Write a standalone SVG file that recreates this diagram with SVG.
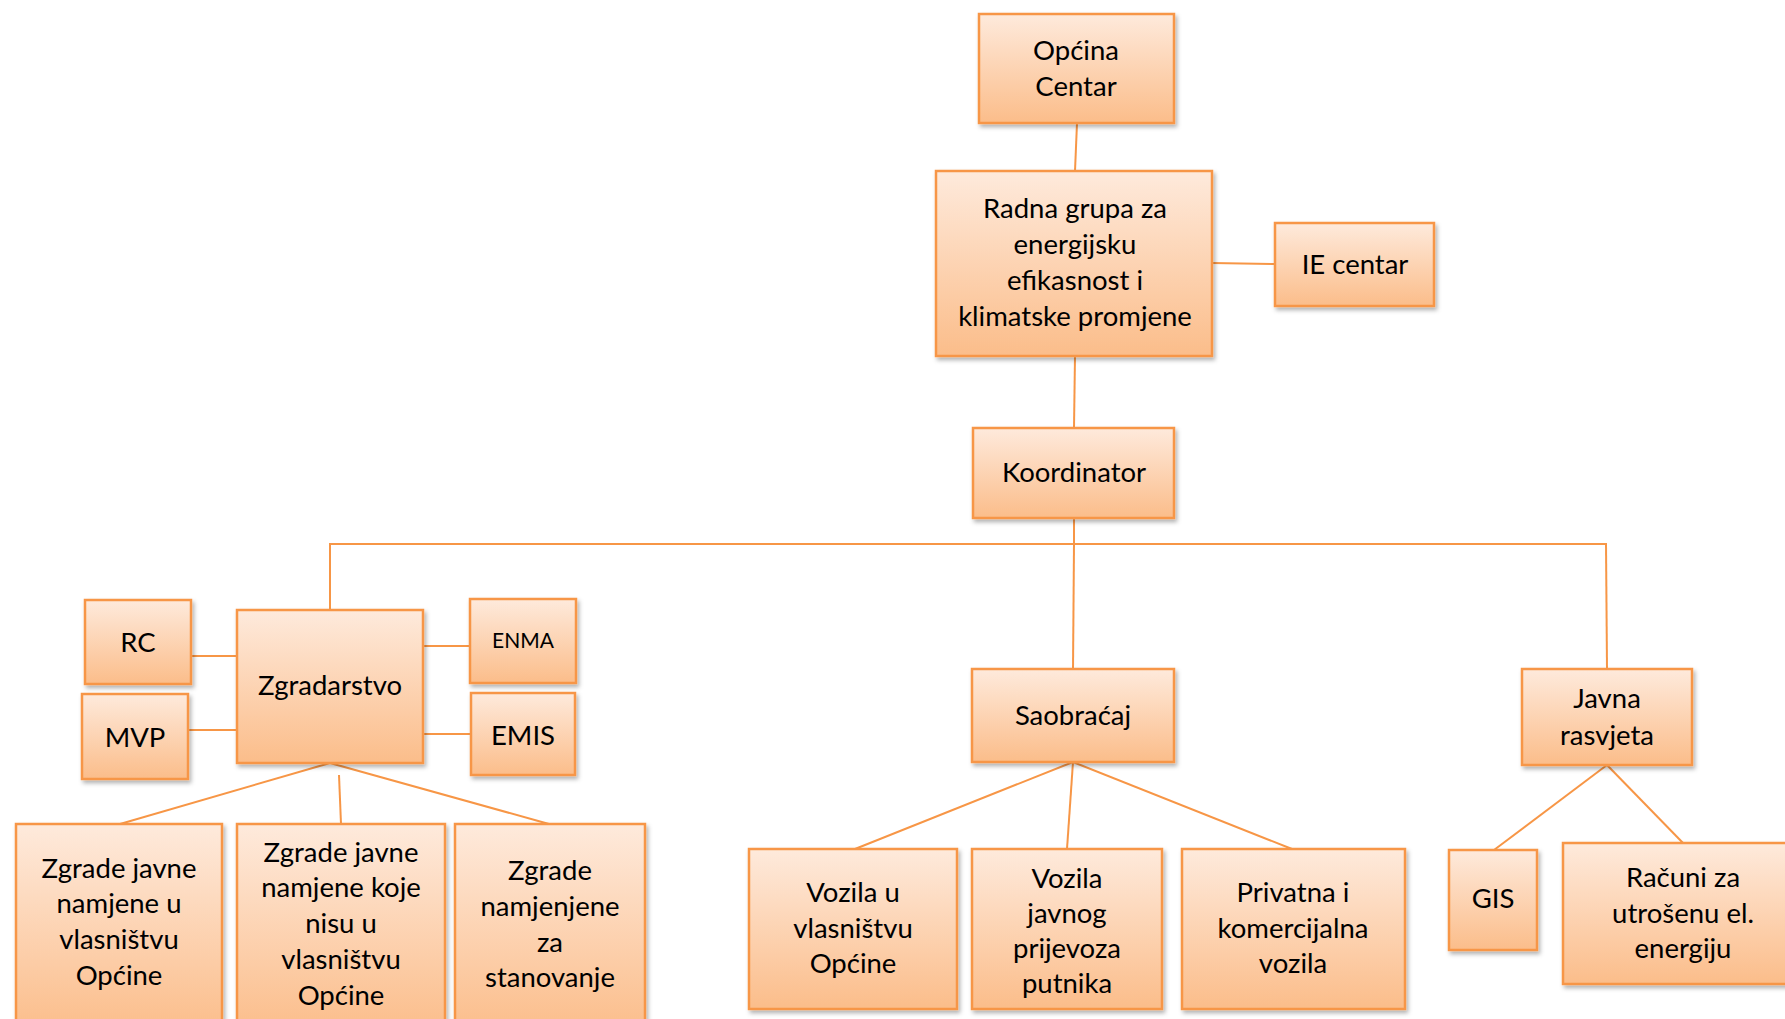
<svg xmlns="http://www.w3.org/2000/svg" width="1785" height="1019" viewBox="0 0 1785 1019">
<defs>
<linearGradient id="g" x1="0" y1="0" x2="0" y2="1">
<stop offset="0" stop-color="#FEEADC"/>
<stop offset="1" stop-color="#FBBD8A"/>
</linearGradient>
<filter id="sh" x="-10%" y="-10%" width="130%" height="130%">
<feDropShadow dx="2" dy="3" stdDeviation="2" flood-color="#000" flood-opacity="0.3"/>
</filter>
</defs>
<style>
.b{fill:url(#g);stroke:#F79646;stroke-width:2.5;filter:url(#sh)}
.c line{stroke:#F79646;stroke-width:2}
text{font-family:Lato,"Liberation Sans",sans-serif;font-size:27.5px;fill:#000;text-anchor:middle}
.s{font-size:21px}
</style>
<rect width="1785" height="1019" fill="#fff"/>
<g class="c" id="connectors">
<line x1="1077" y1="123" x2="1075" y2="171"/>
<line x1="1212" y1="263" x2="1275" y2="264"/>
<line x1="1075" y1="356" x2="1074" y2="428"/>
<line x1="1074" y1="518" x2="1074" y2="544"/>
<line x1="329" y1="544" x2="1607" y2="544"/>
<line x1="330" y1="544" x2="330" y2="610"/>
<line x1="1074" y1="544" x2="1073" y2="669"/>
<line x1="1606" y1="544" x2="1607" y2="669"/>
<line x1="191" y1="656" x2="237" y2="656"/>
<line x1="188" y1="730" x2="237" y2="730"/>
<line x1="423" y1="646" x2="470" y2="646"/>
<line x1="423" y1="734" x2="471" y2="734"/>
<line x1="330" y1="763" x2="120" y2="824"/>
<line x1="339" y1="775" x2="341" y2="824"/>
<line x1="330" y1="763" x2="549" y2="824"/>
<line x1="1073" y1="762" x2="855" y2="849"/>
<line x1="1073" y1="762" x2="1067" y2="849"/>
<line x1="1073" y1="762" x2="1292" y2="849"/>
<line x1="1607" y1="765" x2="1494" y2="850"/>
<line x1="1607" y1="765" x2="1683" y2="843"/>
</g>
<g id="opcina"><rect class="b" x="979" y="14" width="195" height="109"/><text x="1076" y="60">Općina</text><text x="1076" y="96">Centar</text></g>
<g id="radna"><rect class="b" x="936" y="171" width="276" height="185"/><text x="1075" y="218">Radna grupa za</text><text x="1075" y="254">energijsku</text><text x="1075" y="290">efikasnost i</text><text x="1075" y="326">klimatske promjene</text></g>
<g id="ie"><rect class="b" x="1275" y="223" width="159" height="83"/><text x="1355" y="274">IE centar</text></g>
<g id="koordinator"><rect class="b" x="973" y="428" width="201" height="90"/><text x="1074" y="482">Koordinator</text></g>
<g id="zgradarstvo"><rect class="b" x="237" y="610" width="186" height="153"/><text x="330" y="695">Zgradarstvo</text></g>
<g id="rc"><rect class="b" x="85" y="600" width="106" height="84"/><text x="138" y="652">RC</text></g>
<g id="mvp"><rect class="b" x="82" y="694" width="106" height="85"/><text x="135" y="747">MVP</text></g>
<g id="enma"><rect class="b" x="470" y="599" width="106" height="84"/><text class="s" x="523" y="648">ENMA</text></g>
<g id="emis"><rect class="b" x="471" y="693" width="104" height="82"/><text x="523" y="745">EMIS</text></g>
<g id="zjv"><rect class="b" x="16" y="824" width="206" height="210"/><text x="119" y="878">Zgrade javne</text><text x="119" y="913">namjene u</text><text x="119" y="949">vlasništvu</text><text x="119" y="985">Općine</text></g>
<g id="zjn"><rect class="b" x="237" y="824" width="208" height="210"/><text x="341" y="862">Zgrade javne</text><text x="341" y="897">namjene koje</text><text x="341" y="933">nisu u</text><text x="341" y="969">vlasništvu</text><text x="341" y="1005">Općine</text></g>
<g id="zst"><rect class="b" x="455" y="824" width="190" height="210"/><text x="550" y="880">Zgrade</text><text x="550" y="916">namjenjene</text><text x="550" y="952">za</text><text x="550" y="987">stanovanje</text></g>
<g id="saobracaj"><rect class="b" x="972" y="669" width="202" height="93"/><text x="1073" y="725">Saobraćaj</text></g>
<g id="vuv"><rect class="b" x="749" y="849" width="208" height="160"/><text x="853" y="902">Vozila u</text><text x="853" y="938">vlasništvu</text><text x="853" y="973">Općine</text></g>
<g id="vjp"><rect class="b" x="972" y="849" width="190" height="160"/><text x="1067" y="888">Vozila</text><text x="1067" y="923">javnog</text><text x="1067" y="958">prijevoza</text><text x="1067" y="993">putnika</text></g>
<g id="pkv"><rect class="b" x="1182" y="849" width="223" height="160"/><text x="1293" y="902">Privatna i</text><text x="1293" y="938">komercijalna</text><text x="1293" y="973">vozila</text></g>
<g id="javna"><rect class="b" x="1522" y="669" width="170" height="96"/><text x="1607" y="708">Javna</text><text x="1607" y="745">rasvjeta</text></g>
<g id="gis"><rect class="b" x="1449" y="850" width="88" height="100"/><text x="1493" y="908">GIS</text></g>
<g id="racuni"><rect class="b" x="1563" y="843" width="240" height="141"/><text x="1683" y="887">Računi za</text><text x="1683" y="923">utrošenu el.</text><text x="1683" y="958">energiju</text></g>
</svg>
